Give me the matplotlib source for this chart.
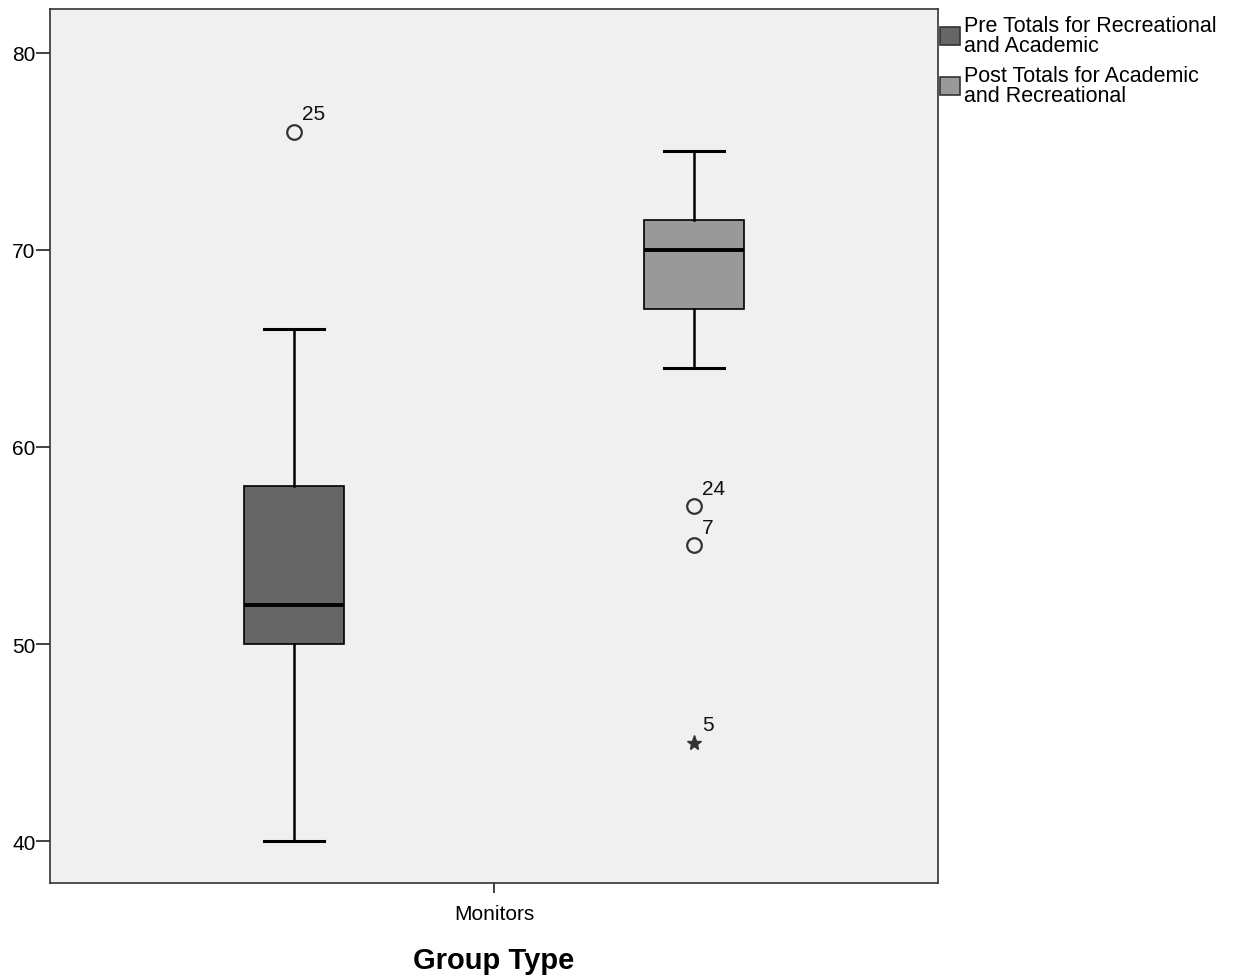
import numpy as np
import matplotlib.pyplot as plt
from matplotlib.patches import Patch

plt.rcParams['font.family'] = ['Liberation Sans', 'DejaVu Sans']

# data
series = ["Pre Totals for Recreational\nand Academic", "Post Totals for Academic\nand Recreational"]
whislo = [40, 64]
q1 = [50, 67]
med = [52, 70]
q3 = [58, 71.5]
whishi = [66, 75]
outliers = [[76], [57, 55]]
outlier_ids = [["25"], ["24", "7"]]
extremes = [[], [45]]
extreme_ids = [[], ["5"]]
colors = ["#666666", "#999999"]
group = "Monitors"
positions = [-0.2, 0.2]

fig = plt.figure(figsize=(12.33, 9.78), dpi=100)
ax = fig.add_axes([50/1233, 94/978, 888/1233, 874/978])
ax.set_facecolor("#f0f0f0")

stats = []
for i in range(2):
    stats.append(dict(whislo=whislo[i], q1=q1[i], med=med[i], q3=q3[i],
                      whishi=whishi[i], fliers=[]))

bp = ax.bxp(stats, positions=positions, widths=0.1, patch_artist=True,
            showfliers=False, manage_ticks=False,
            boxprops=dict(linewidth=1.2, edgecolor="black"),
            whiskerprops=dict(linewidth=1.8, color="black"),
            capprops=dict(linewidth=2.2, color="black"),
            medianprops=dict(linewidth=2.8, color="black"))
for b, c in zip(bp["boxes"], colors):
    b.set_facecolor(c)
for cap in bp["caps"]:
    x = cap.get_xdata()
    m = x.mean()
    cap.set_xdata([m - 0.03, m + 0.03])

for i in range(2):
    for v, lab in zip(outliers[i], outlier_ids[i]):
        ax.plot(positions[i], v, marker="o", mfc="none", mec="#333333",
                ms=10.5, mew=1.6, ls="none")
        ax.annotate(lab, (positions[i], v), xytext=(6, 9),
                    textcoords="offset points", fontsize=15, color="#111111")
    for v, lab in zip(extremes[i], extreme_ids[i]):
        ax.plot(positions[i], v, marker="*", color="#333333",
                ms=11, ls="none")
        ax.annotate(lab, (positions[i], v), xytext=(6, 9),
                    textcoords="offset points", fontsize=15, color="#111111")

ax.set_xlim(-0.444, 0.444)
ax.set_ylim(37.87, 82.23)
ax.set_yticks([40, 50, 60, 70, 80])
ax.set_xticks([0])
ax.set_xticklabels([group])
ax.tick_params(axis="both", labelsize=15, width=1.2, color="#222222")
ax.tick_params(axis="y", pad=0.5, length=10)
ax.tick_params(axis="x", pad=8, length=7)
for s in ax.spines.values():
    s.set_linewidth(1.2)
    s.set_color("#333333")
ax.set_xlabel("Group Type", fontsize=21, fontweight="bold", labelpad=17)

handles = [Patch(facecolor=c, edgecolor="#333333", linewidth=1.2) for c in colors]
fig.legend(handles, series, loc="upper left", bbox_to_anchor=(938/1233, 1 - 14/978),
           frameon=False, fontsize=15.5, handlelength=0.9, handleheight=0.9,
           handletextpad=0.2, labelspacing=0.45, borderaxespad=0, borderpad=0.1)
for t in fig.legends[0].get_texts():
    t.set_linespacing(0.9)

fig.savefig("out.png", dpi=100)
